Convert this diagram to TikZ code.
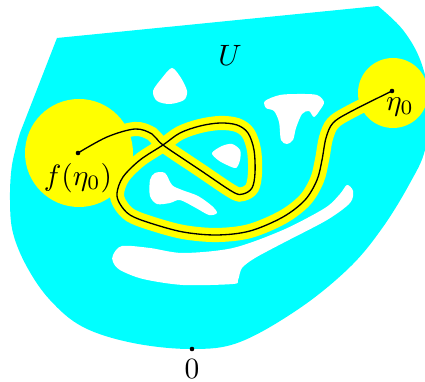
\documentclass[tikz,border=0pt]{standalone}
\usepackage{amsmath}
\usepackage{tikz}
\definecolor{aqua}{RGB}{0,255,255}
\definecolor{lemon}{RGB}{255,255,0}
\tikzset{
	region/.style={fill=aqua},
	hole/.style={fill=white},
	disk/.style={fill=lemon},
	curve/.style={draw=black, line width=0.45pt,
		preaction={draw=lemon, line width=4.8pt}},
	dot/.style={fill=black},
}

\begin{document}
\begin{tikzpicture}[x=0.34pt, y=-0.34pt]
	\useasboundingbox (0,0) rectangle (425,382);
	% the domain U
	\fill[region] (57,38) -- plot[smooth, tension=0.6] coordinates {(378,6) (403,30) (421,62) (430,105) (425,150) (410,183) (383,227) (350,267) (300,308) (240,342) (192,349) (133,343) (83,327) (50,300) (27,267) (13,233) (10,200) (12,165) (20,133)} -- cycle;
	% holes
	\fill[hole] plot[smooth cycle] coordinates {(172,68) (162,78) (153,91) (157,101) (170,104) (184,100) (187,91) (181,78)};
	\fill[hole] plot[smooth cycle] coordinates {(265,101) (280,95) (300,94) (317,95) (324,102) (320,110) (314,117) (309,111) (302,114) (296,128) (293,140) (287,144) (281,140) (279,122) (274,111) (266,108)};
	\fill[hole] plot[smooth cycle] coordinates {(212,153) (222,146) (232,144) (240,150) (240,160) (236,168) (227,165) (218,160)};
	\fill[hole] plot[smooth cycle] coordinates {(150,180) (155,173) (165,173) (172,185) (182,190) (198,196) (212,206) (217,213) (209,215) (196,208) (180,200) (170,203) (157,204) (150,196)};
	\fill[hole] plot[smooth cycle] coordinates {(113,255) (122,246) (150,248) (183,253) (233,248) (283,230) (325,208) (340,194) (347,185) (353,191) (350,203) (327,220) (283,243) (255,258) (242,268) (238,280) (233,284) (183,285) (143,279) (120,270) (113,262)};
	% points
	\coordinate (fz) at (78,153);
	\coordinate (eta) at (392,91);
	\coordinate (zero) at (192,349);
	\fill[disk] (79,153) circle (54);
	\fill[disk] (393,93) circle (35);
	% the curve from f(eta_0) to eta_0
	\draw[curve] plot[smooth, tension=0.55] coordinates {(fz) (107,137) (135,129) (152,134) (163,145) (200,170) (233,192) (243,194) (252,188) (255,173) (254,150) (248,133) (237,125) (220,123) (200,126) (180,133) (163,145) (140,160) (123,177) (117,193) (120,204) (130,215) (150,223) (183,232) (217,235) (250,231) (283,217) (305,200) (317,180) (322,160) (326,138) (333,123) (350,112) (eta)};
	\foreach \p in {fz, eta, zero}
	\fill[dot] (\p) circle (2.3);
	\node[below] (fzlabel) at (fz) {$f(\eta_0)$};
	\node (etalabel) at (400,107) {$\eta_0$};
	\node[below] (zerolabel) at (zero) {$0$};
	\node (ulabel) at (230,55) {$U$};
\end{tikzpicture}
\end{document}
